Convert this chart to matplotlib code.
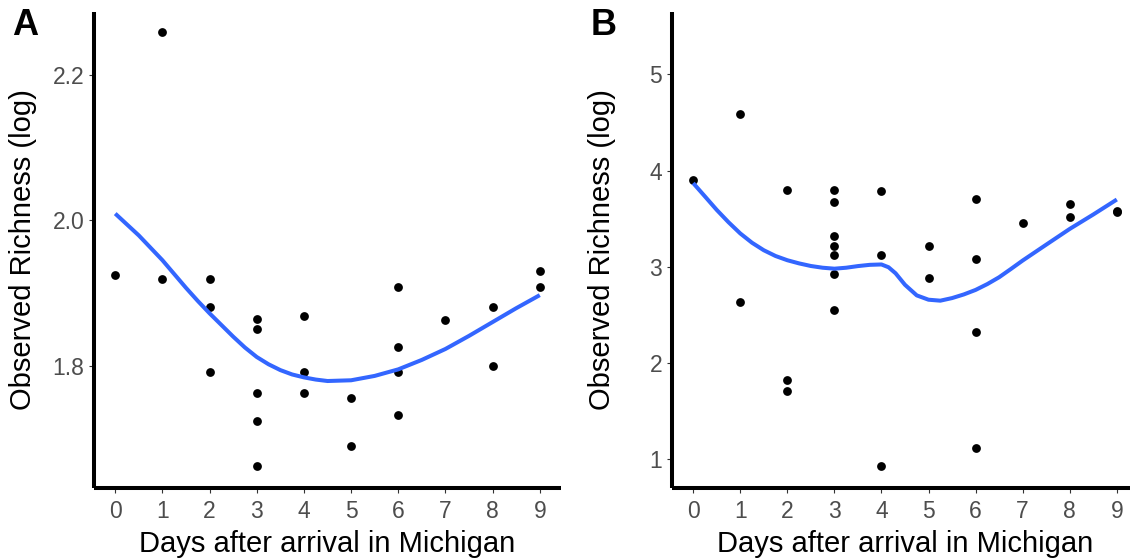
import matplotlib
matplotlib.use("Agg")
import matplotlib.pyplot as plt
from matplotlib.ticker import FormatStrFormatter

plt.rcParams['font.family'] = ['Liberation Sans', 'DejaVu Sans']

# Panel A: observed richness (log) by day
days_a = [0, 1, 1, 2, 2, 2, 3, 3, 3, 3, 3, 4, 4, 4, 5, 5, 6, 6, 6, 6, 7, 8, 8, 9, 9]
rich_a = [1.925, 2.258, 1.919, 1.919, 1.881, 1.792, 1.864, 1.851, 1.763, 1.724, 1.662,
          1.869, 1.792, 1.763, 1.756, 1.690, 1.908, 1.826, 1.792, 1.732, 1.863,
          1.881, 1.799, 1.930, 1.908]

# Panel B
days_b = [0, 1, 1, 2, 2, 2, 3, 3, 3, 3, 3, 3, 3, 4, 4, 4, 5, 5, 6, 6, 6, 6, 7, 8, 8, 9, 9]
rich_b = [3.896, 4.59, 2.629, 3.796, 1.817, 1.708, 3.796, 3.674, 3.316, 3.212, 3.118,
          2.920, 2.549, 3.789, 3.122, 0.924, 3.219, 2.878, 3.702, 3.077, 2.320, 1.111,
          3.458, 3.653, 3.514, 3.57, 3.58]

# smoother (loess)
fit_x_a = [0, 0.25, 0.5, 0.75, 1, 1.25, 1.5, 1.75, 2, 2.25, 2.5, 2.75, 3, 3.25, 3.5,
           3.75, 4, 4.25, 4.5, 5, 5.5, 6, 6.5, 7, 7.5, 8, 8.5, 9]
fit_y_a = [2.009, 1.994, 1.979, 1.962, 1.945, 1.926, 1.907, 1.889, 1.872, 1.856,
           1.840, 1.825, 1.812, 1.802, 1.794, 1.788, 1.784, 1.781, 1.779, 1.780,
           1.786, 1.795, 1.808, 1.823, 1.841, 1.860, 1.879, 1.897]

fit_x_b = [0, 0.25, 0.5, 0.75, 1, 1.25, 1.5, 1.75, 2, 2.25, 2.5, 2.75, 3, 3.25, 3.5,
           3.75, 4, 4.15, 4.3, 4.5, 4.75, 5, 5.25, 5.5, 5.75, 6, 6.25, 6.5, 6.75,
           7, 7.5, 8, 8.5, 9]
fit_y_b = [3.869, 3.73, 3.59, 3.462, 3.345, 3.248, 3.170, 3.110, 3.066, 3.033,
           3.006, 2.988, 2.978, 2.988, 3.005, 3.018, 3.022, 2.993, 2.93, 2.81,
           2.70, 2.655, 2.645, 2.672, 2.71, 2.757, 2.818, 2.889, 2.975, 3.063,
           3.228, 3.392, 3.542, 3.698]

day_ticks = list(range(10))
yticks_a = [1.8, 2.0, 2.2]
yticks_b = [1, 2, 3, 4, 5]


def style(ax, ylim, yticks):
    ax.set_xlim(-0.45, 9.45)
    ax.set_ylim(*ylim)
    ax.set_xticks(day_ticks)
    ax.set_yticks(yticks)
    for s in ['top', 'right']:
        ax.spines[s].set_visible(False)
    for s in ['left', 'bottom']:
        ax.spines[s].set_linewidth(2.9)
        ax.spines[s].set_capstyle('butt')
    ax.tick_params(length=3.5, width=0.8, color='#333333', labelcolor='#4D4D4D',
                   labelsize=16.5)
    ax.tick_params(axis='x', pad=5)
    ax.tick_params(axis='y', pad=3.5)
    ax.set_xlabel('Days after arrival in Michigan', fontsize=21, labelpad=5)


fig = plt.figure(figsize=(11.3, 5.6), dpi=100)
W, H = 1130, 560
ax_a = fig.add_axes([94 / W, (H - 488) / H, 467 / W, 476 / H])
ax_b = fig.add_axes([672 / W, (H - 488) / H, 466 / W, 476 / H])

panels = [(ax_a, days_a, rich_a, fit_x_a, fit_y_a, (1.632, 2.286), yticks_a),
          (ax_b, days_b, rich_b, fit_x_b, fit_y_b, (0.695, 5.65), yticks_b)]
for ax, dx, ry, fx, fy, ylim, yt in panels:
    ax.scatter(dx, ry, s=40, color='black', zorder=2, linewidths=0)
    ax.plot(fx, fy, color='#3366FF', lw=2.9, zorder=3,
            solid_joinstyle='round', solid_capstyle='butt')
    style(ax, ylim, yt)

ax_a.yaxis.set_major_formatter(FormatStrFormatter('%.1f'))

fig.text(23 / W, 1 - 250 / H, 'Observed Richness (log)', rotation=90,
         ha='center', va='center', fontsize=21)
fig.text(602 / W, 1 - 250 / H, 'Observed Richness (log)', rotation=90,
         ha='center', va='center', fontsize=21)
fig.text(12 / W, 1 - 8 / H, 'A', fontsize=26, fontweight='bold', ha='left', va='top')
fig.text(591 / W, 1 - 8 / H, 'B', fontsize=26, fontweight='bold', ha='left', va='top')

fig.savefig('out.png', dpi=100)
